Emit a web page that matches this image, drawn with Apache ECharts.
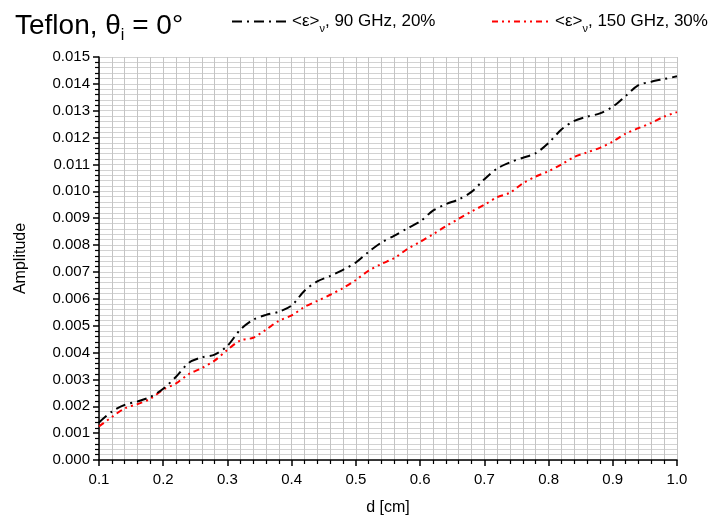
<!DOCTYPE html>
<html>
<head>
<meta charset="utf-8">
<script src="https://cdn.jsdelivr.net/npm/echarts@6/dist/echarts.min.js"></script>
<style>
  html, body { margin: 0; padding: 0; background: #fff; }
  #chart { width: 724px; height: 525px; }
</style>
</head>
<body>
<div id="chart"></div>
<script>
// thickness d [cm], step 0.02
const dValues = [0.10, 0.12, 0.14, 0.16, 0.18, 0.20, 0.22, 0.24, 0.26, 0.28,
  0.30, 0.32, 0.34, 0.36, 0.38, 0.40, 0.42, 0.44, 0.46, 0.48,
  0.50, 0.52, 0.54, 0.56, 0.58, 0.60, 0.62, 0.64, 0.66, 0.68,
  0.70, 0.72, 0.74, 0.76, 0.78, 0.80, 0.82, 0.84, 0.86, 0.88,
  0.90, 0.92, 0.94, 0.96, 0.98, 1.00];
// amplitude x 1e-3
const amp90 = [1.40, 1.80, 2.05, 2.18, 2.35, 2.65, 3.10, 3.62, 3.82, 3.92,
  4.25, 4.85, 5.22, 5.40, 5.52, 5.75, 6.30, 6.65, 6.85, 7.08,
  7.35, 7.75, 8.10, 8.35, 8.62, 8.88, 9.28, 9.52, 9.70, 9.98,
  10.45, 10.85, 11.08, 11.25, 11.42, 11.80, 12.30, 12.62, 12.78, 12.90,
  13.15, 13.55, 13.95, 14.08, 14.18, 14.28];
const amp150 = [1.25, 1.60, 1.92, 2.08, 2.28, 2.62, 2.85, 3.20, 3.42, 3.70,
  4.10, 4.45, 4.55, 4.85, 5.18, 5.38, 5.70, 5.92, 6.15, 6.40,
  6.70, 7.05, 7.30, 7.52, 7.85, 8.12, 8.40, 8.70, 8.98, 9.25,
  9.50, 9.78, 9.95, 10.30, 10.55, 10.75, 11.00, 11.28, 11.45, 11.62,
  11.85, 12.15, 12.35, 12.55, 12.78, 12.95];
const seriesNames = ['<ε>{sub|ν}, 90 GHz, 20%', '<ε>{sub|ν}, 150 GHz, 30%'];

const font = 'Liberation Sans';
const toPairs = arr => dValues.map((d, i) => [d, arr[i] / 1000]);

const legendText = {
  fontFamily: font,
  fontSize: 17,
  color: '#000',
  rich: {
    sub: { fontFamily: font, fontSize: 11, color: '#000', padding: [14, 0, 0, 0] }
  }
};

const chart = echarts.init(document.getElementById('chart'), null, { renderer: 'canvas' });
chart.setOption({
  animation: false,
  backgroundColor: '#fff',
  title: {
    text: 'Teflon, θ{sub|i} = 0°',
    left: 10,
    top: 3,
    textStyle: {
      fontFamily: font,
      fontSize: 28,
      fontWeight: 'normal',
      color: '#000',
      rich: {
        sub: { fontFamily: font, fontSize: 16, color: '#000', padding: [20, 0, 0, 0] }
      }
    }
  },
  legend: [
    {
      data: [seriesNames[0]],
      left: 226,
      top: 8,
      itemWidth: 55,
      itemHeight: 10,
      itemStyle: { opacity: 0 },
      textStyle: legendText,
      formatter: n => n
    },
    {
      data: [seriesNames[1]],
      left: 486,
      top: 8,
      itemWidth: 58,
      itemHeight: 10,
      itemStyle: { opacity: 0 },
      textStyle: legendText,
      formatter: n => n
    }
  ],
  grid: { left: 99, right: 47, top: 57, bottom: 65 },
  xAxis: {
    type: 'value',
    min: 0.1,
    max: 1.0,
    interval: 0.1,
    name: 'd [cm]',
    nameLocation: 'middle',
    nameGap: 40,
    nameTextStyle: { fontFamily: font, fontSize: 16, color: '#000' },
    axisLine: { show: true, onZero: false, lineStyle: { color: '#000', width: 1.5 } },
    axisTick: { show: true, length: 6, lineStyle: { color: '#000', width: 1.5 } },
    minorTick: { show: true, splitNumber: 5, length: 4, lineStyle: { color: '#000', width: 1.2 } },
    axisLabel: {
      fontFamily: font, fontSize: 15, color: '#000', margin: 12,
      formatter: v => v.toFixed(1)
    },
    splitLine: { show: true, lineStyle: { color: '#c4c4c4', width: 1 } },
    minorSplitLine: { show: true, lineStyle: { color: '#c4c4c4', width: 1 } }
  },
  yAxis: {
    type: 'value',
    min: 0,
    max: 0.015,
    interval: 0.001,
    name: 'Amplitude',
    nameLocation: 'middle',
    nameGap: 70,
    nameTextStyle: { fontFamily: font, fontSize: 16, color: '#000' },
    axisLine: { show: true, lineStyle: { color: '#000', width: 1.5 } },
    axisTick: { show: true, length: 6, lineStyle: { color: '#000', width: 1.5 } },
    minorTick: { show: true, splitNumber: 5, length: 4, lineStyle: { color: '#000', width: 1.2 } },
    axisLabel: {
      fontFamily: font, fontSize: 15, color: '#000', margin: 9,
      formatter: v => v.toFixed(3)
    },
    splitLine: { show: true, lineStyle: { color: '#d2d2d2', width: 1 } },
    minorSplitLine: { show: true, lineStyle: { color: '#d2d2d2', width: 1 } }
  },
  series: [
    {
      name: seriesNames[0],
      type: 'line',
      data: toPairs(amp90),
      smooth: 0.3,
      showSymbol: false,
      symbol: 'none',
      color: '#000',
      lineStyle: { color: '#000', width: 2, type: [10, 5, 2, 5] },
      z: 3
    },
    {
      name: seriesNames[1],
      type: 'line',
      data: toPairs(amp150),
      smooth: 0.3,
      showSymbol: false,
      symbol: 'none',
      color: '#ff0000',
      lineStyle: { color: '#ff0000', width: 2, type: [6, 4, 2, 4, 2, 4] },
      z: 2
    }
  ]
});
</script>
</body>
</html>
